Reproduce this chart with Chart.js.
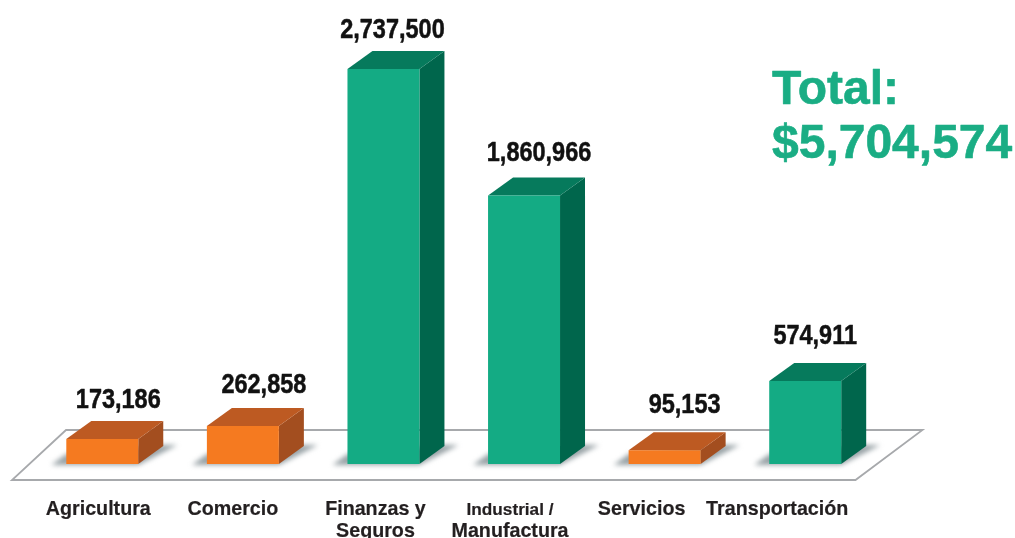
<!DOCTYPE html>
<html>
<head>
<meta charset="utf-8">
<title>Total por sector</title>
<script src="https://cdn.jsdelivr.net/npm/chart.js@4/dist/chart.umd.min.js"></script>
<style>
  html, body { margin: 0; padding: 0; background: #fff; overflow: hidden; }
  canvas { display: block; }
</style>
</head>
<body>
<canvas id="sectorChart" width="1015" height="538"></canvas>
<script>
const categories = [["Agricultura"], ["Comercio"], ["Finanzas y", "Seguros"], ["Industrial /", "Manufactura"], ["Servicios"], ["Transportación"]];
const values = [173186, 262858, 2737500, 1860966, 95153, 574911];
const valueLabels = ["173,186", "262,858", "2,737,500", "1,860,966", "95,153", "574,911"];
const totalLines = ["Total:", "$5,704,574"];

// label nudges, the original artwork doesn't center these on the bars
const tickShift = [-4, -10, -8, -14, -23, -28];
const tickFont = [19.7, 19.7, 19.7, 17.2, 19.7, 19.7];
const valueShift = [16, 21, 9, 15, 20, 10];
const valueGap = [13, 15, 13, 16, 19, 19];

const DEPTH_X = 25;
const DEPTH_Y = 18;

const green = { front: "#14ab84", side: "#00664c", top: "#067a5c" };
const orange = { front: "#f57a20", side: "#a34e1f", top: "#bd5a22" };
const palette = values.map(v => (v > 500000 ? green : orange));

function poly(ctx, pts, fill) {
  ctx.beginPath();
  pts.forEach((p, i) => (i ? ctx.lineTo(p[0], p[1]) : ctx.moveTo(p[0], p[1])));
  ctx.closePath();
  ctx.fillStyle = fill;
  ctx.fill();
}

// fill plus a thin stroke, canvas bold is lighter than the print type
function heavyText(ctx, text, x, y, color, weight) {
  ctx.fillStyle = color;
  ctx.strokeStyle = color;
  ctx.lineWidth = weight;
  ctx.lineJoin = "round";
  ctx.strokeText(text, x, y);
  ctx.fillText(text, x, y);
}

const box3d = {
  id: "box3d",
  beforeDatasetsDraw(chart) {
    const ctx = chart.ctx;
    const area = chart.chartArea;
    const base = chart.scales.y.getPixelForValue(0);
    const bars = chart.getDatasetMeta(0).data;

    // floor plate
    ctx.save();
    ctx.beginPath();
    ctx.moveTo(area.left - 20, base + 16);
    ctx.lineTo(area.right - 20, base + 16);
    ctx.lineTo(area.right + 47, base - 34);
    ctx.lineTo(area.left + 34, base - 34);
    ctx.closePath();
    ctx.fillStyle = "#fff";
    ctx.fill();
    ctx.strokeStyle = "#a7a9ac";
    ctx.lineWidth = 1.8;
    ctx.stroke();

    // soft shadow under each box
    bars.forEach(bar => {
      const l = bar.x - bar.width / 2;
      const r = bar.x + bar.width / 2;
      ctx.save();
      ctx.filter = "blur(2.5px)";
      poly(ctx, [[l - 15, base + 1], [r, base + 1], [r + DEPTH_X + 14, base - DEPTH_Y - 1], [r + DEPTH_X, base - DEPTH_Y - 1], [l, base - 10]], "#98a2a6");
      ctx.restore();
    });

    // side and top faces
    bars.forEach((bar, i) => {
      const l = bar.x - bar.width / 2;
      const r = bar.x + bar.width / 2;
      const t = bar.y;
      poly(ctx, [[r, t], [r + DEPTH_X, t - DEPTH_Y], [r + DEPTH_X, base - DEPTH_Y], [r, base]], palette[i].side);
      poly(ctx, [[l, t], [l + DEPTH_X, t - DEPTH_Y], [r + DEPTH_X, t - DEPTH_Y], [r, t]], palette[i].top);
    });
    ctx.restore();
  },
  afterDatasetsDraw(chart) {
    const ctx = chart.ctx;
    const bars = chart.getDatasetMeta(0).data;
    const area = chart.chartArea;
    ctx.save();
    ctx.textAlign = "center";
    ctx.textBaseline = "alphabetic";

    // value labels, squeezed to look like the condensed bold of the original
    bars.forEach((bar, i) => {
      ctx.save();
      ctx.translate(bar.x + valueShift[i], bar.y - DEPTH_Y - valueGap[i]);
      ctx.scale(0.87, 1);
      ctx.font = "bold 27px 'Liberation Sans'";
      heavyText(ctx, valueLabels[i], 0, 0, "#111", 0.5);
      ctx.restore();
    });

    // category labels
    bars.forEach((bar, i) => {
      categories[i].forEach((line, n) => {
        const size = n === 1 ? 19.7 : tickFont[i];
        ctx.font = "bold " + size + "px 'Liberation Sans'";
        heavyText(ctx, line, bar.x + tickShift[i], area.bottom + 51 + n * 22, "#231f20", 0.2);
      });
    });

    // total
    ctx.textAlign = "left";
    ctx.font = "bold 48px 'Liberation Sans'";
    heavyText(ctx, totalLines[0], 772, 104, "#1aad84", 0.6);
    heavyText(ctx, totalLines[1], 772, 158, "#1aad84", 0.6);
    ctx.restore();
  }
};

new Chart(document.getElementById("sectorChart"), {
  type: "bar",
  data: {
    labels: categories.map(c => c.join(" ")),
    datasets: [{
      data: values,
      backgroundColor: palette.map(p => p.front),
      borderWidth: 0,
      categoryPercentage: 1,
      barPercentage: 0.512
    }]
  },
  options: {
    responsive: false,
    animation: false,
    layout: { padding: { left: 32, right: 139.5, top: 0, bottom: 74 } },
    plugins: { legend: { display: false }, tooltip: { enabled: false } },
    scales: {
      x: { display: false },
      y: { display: false, min: 0, max: 3215000 }
    }
  },
  plugins: [box3d]
});
</script>
</body>
</html>
